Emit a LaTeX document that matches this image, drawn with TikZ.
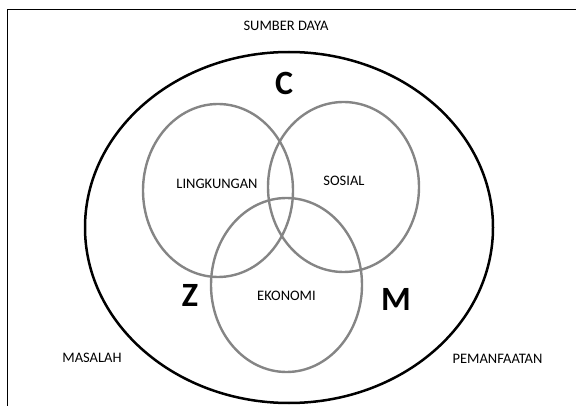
\documentclass[tikz,border=0pt]{standalone}
\usepackage{fontspec}
\setmainfont{Carlito}
\begin{document}
\begin{tikzpicture}[x=1pt,y=-1pt,
  label/.style={font=\fontsize{14.5}{16}\selectfont, anchor=base, inner sep=0pt},
  letter/.style={font=\fontsize{34}{36}\selectfont\bfseries, anchor=base, inner sep=0pt},
  outerring/.style={line width=2.5pt, black},
  aspect/.style={line width=2.4pt, black!48}]
  \useasboundingbox (0,0) rectangle (576,406);
  % frame edges
  \draw[line width=1.6pt] (7.5,406) -- (7.5,9.5) -- (576,9.5);
  % outer boundary
  \draw[outerring] (289,227.5) ellipse [x radius=204, y radius=175.5];
  % three overlapping aspects
  \draw[aspect] (218,190.5) ellipse [x radius=75, y radius=86.5];
  \draw[aspect] (343.5,187) ellipse [x radius=75.5, y radius=85];
  \draw[aspect] (286.5,285) ellipse [x radius=75.5, y radius=87];
  % labels
  \node[label] (sd) at (286,31) {SUMBER DAYA};
  \node[label] (lk) at (217,189) {LINGKUNGAN};
  \node[label] (so) at (344,186) {SOSIAL};
  \node[label] (ek) at (286.5,301) {EKONOMI};
  \node[label] (ms) at (92,362) {MASALAH};
  \node[label] (pm) at (497.5,363) {PEMANFAATAN};
  \node[letter] (c) at (284,94.5) {C};
  \node[letter] (z) at (190,307) {Z};
  \node[letter] (m) at (396,311) {M};
\end{tikzpicture}
\end{document}
